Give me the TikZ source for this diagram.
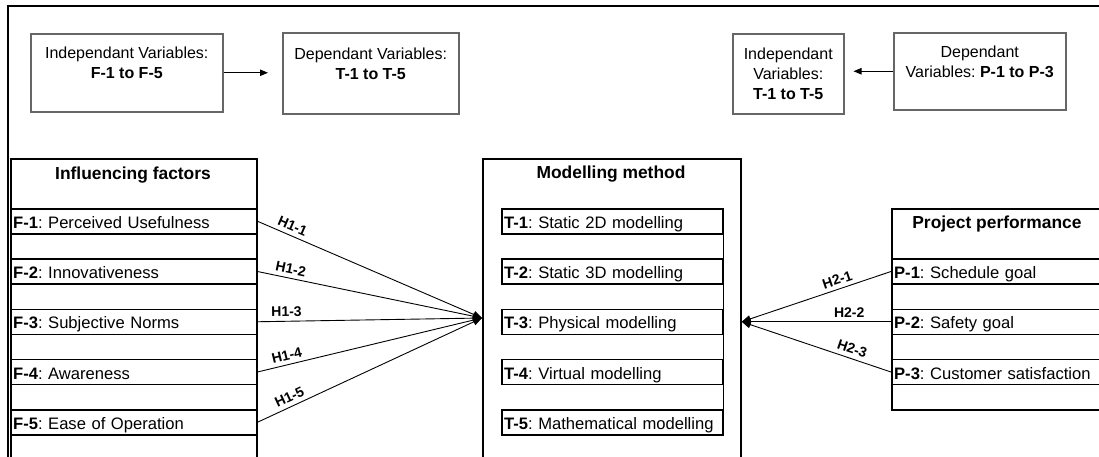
\documentclass[tikz,border=0pt]{standalone}
\usepackage{fontspec}
\setmainfont{Liberation Sans}
\frenchspacing
\usetikzlibrary{arrows.meta}
\begin{document}
\begin{tikzpicture}[x=0.5pt, y=-0.5pt,
  frame/.style={line width=0.8pt},
  topbox/.style={draw=black!60, line width=0.75pt, align=center, inner sep=0pt,
    anchor=north west, font=\fontsize{8}{9.8}\selectfont},
  bigbox/.style={draw, line width=0.85pt, inner sep=0pt, anchor=north west},
  rowbox/.style={draw, line width=0.75pt, anchor=north west, minimum height=12.5pt,
    inner xsep=1.2pt, inner ysep=0pt, text height=0.72em, text depth=0pt,
    align=left, font=\fontsize{8.3}{10}\selectfont},
  frow/.style={rowbox, text width=120.6pt},
  trow/.style={rowbox, text width=108.1pt},
  prow/.style={rowbox, text width=104.1pt},
  title/.style={anchor=base, inner sep=0pt, font=\fontsize{8.7}{10}\selectfont\bfseries},
  toparrow/.style={line width=0.5pt, -{Triangle[length=4pt, width=3.2pt]}},
  link/.style={line width=0.45pt, -{Triangle[length=4.5pt, width=3.6pt]}},
  lbl/.style={font=\fontsize{7}{8}\selectfont\bfseries, inner sep=2pt},
]
\useasboundingbox (0,0) rectangle (1099,456);
\clip (0,0) rectangle (1099,456);

% outer frame
\draw[frame] (8,6) rectangle (1120,480);

% variable legend boxes
\node[topbox, minimum width=96pt, minimum height=39pt] (indepF) at (30,33)
  {Independant Variables:\\\textbf{F-1 to F-5}\\\mbox{}};
\node[topbox, minimum width=88pt, minimum height=40.5pt] (depT) at (282,32)
  {Dependant Variables:\\\textbf{T-1 to T-5}\\\mbox{}};
\node[topbox, minimum width=55.5pt, minimum height=40pt] (indepT) at (732,33)
  {Independant\\Variables:\\\textbf{T-1 to T-5}};
\node[topbox, minimum width=86pt, minimum height=38.5pt] (depP) at (893,32)
  {Dependant\\Variables: \textbf{P-1 to P-3}\\\mbox{}};

\draw[toparrow, shorten >=7pt] (indepF.east) -- (indepF.east -| depT.west);
\draw[toparrow, shorten >=4.5pt] (depP.west) -- (depP.west -| indepT.east);

% influencing factors
\node[bigbox, minimum width=123pt, minimum height=161pt] (infl) at (10,158) {};
\node[title] (inflT) at (133,179) {Influencing factors};
\node[frow] (F1) at (10,208)    {\textbf{F-1}: Perceived Usefulness};
\node[frow] (F2) at (10,258.25) {\textbf{F-2}: Innovativeness};
\node[frow] (F3) at (10,308.5)  {\textbf{F-3}: Subjective Norms};
\node[frow] (F4) at (10,358.75) {\textbf{F-4}: Awareness};
\node[frow] (F5) at (10,409)    {\textbf{F-5}: Ease of Operation};

% modelling method
\node[bigbox, minimum width=129pt, minimum height=161pt] (mm) at (482,158) {};
\node[title] (mmT) at (611,178) {Modelling method};
\node[trow] (T1) at (501,208)    {\textbf{T-1}: Static 2D modelling};
\node[trow] (T2) at (501,258.25) {\textbf{T-2}: Static 3D modelling};
\node[trow] (T3) at (501,308.5)  {\textbf{T-3}: Physical modelling};
\node[trow] (T4) at (501,358.75) {\textbf{T-4}: Virtual modelling};
\node[trow] (T5) at (501,409)    {\textbf{T-5}: Mathematical modelling};
\draw[line width=0.75pt] (T1.north east) -- (T5.south east);

% project performance
\node[bigbox, minimum width=106.5pt, minimum height=100.5pt] (proj) at (891,208) {};
\node[title] (projT) at (997,228) {Project performance};
\node[prow] (P1) at (891,258.25) {\textbf{P-1}: Schedule goal};
\node[prow] (P2) at (891,308.5)  {\textbf{P-2}: Safety goal};
\node[prow] (P3) at (891,358.75) {\textbf{P-3}: Customer satisfaction};

% hypotheses
\coordinate (inL) at (482,318);
\coordinate (inR) at (mm.east |- P2.west);

\draw[link] (F1.east) -- node[lbl, pos=0.14, above, sloped] (h11) {H1-1} (inL);
\draw[link] (F2.east) -- node[lbl, pos=0.14, above, sloped] (h12) {H1-2} (inL);
\draw[link] (F3.east) -- node[lbl, pos=0.13, above, sloped] (h13) {H1-3} (inL);
\draw[link] (F4.east) -- node[lbl, pos=0.14, above, sloped] (h14) {H1-4} (inL);
\draw[link] (F5.east) -- node[lbl, pos=0.16, above, sloped] (h15) {H1-5} (inL);

\draw[link] (P1.west) -- node[lbl, pos=0.34, above, sloped] (h21) {H2-1} (inR);
\draw[link] (P2.west) -- node[lbl, pos=0.28, above, sloped] (h22) {H2-2} (inR);
\draw[link] (P3.west) -- node[lbl, pos=0.28, above, sloped] (h23) {H2-3} (inR);
\end{tikzpicture}
\end{document}
